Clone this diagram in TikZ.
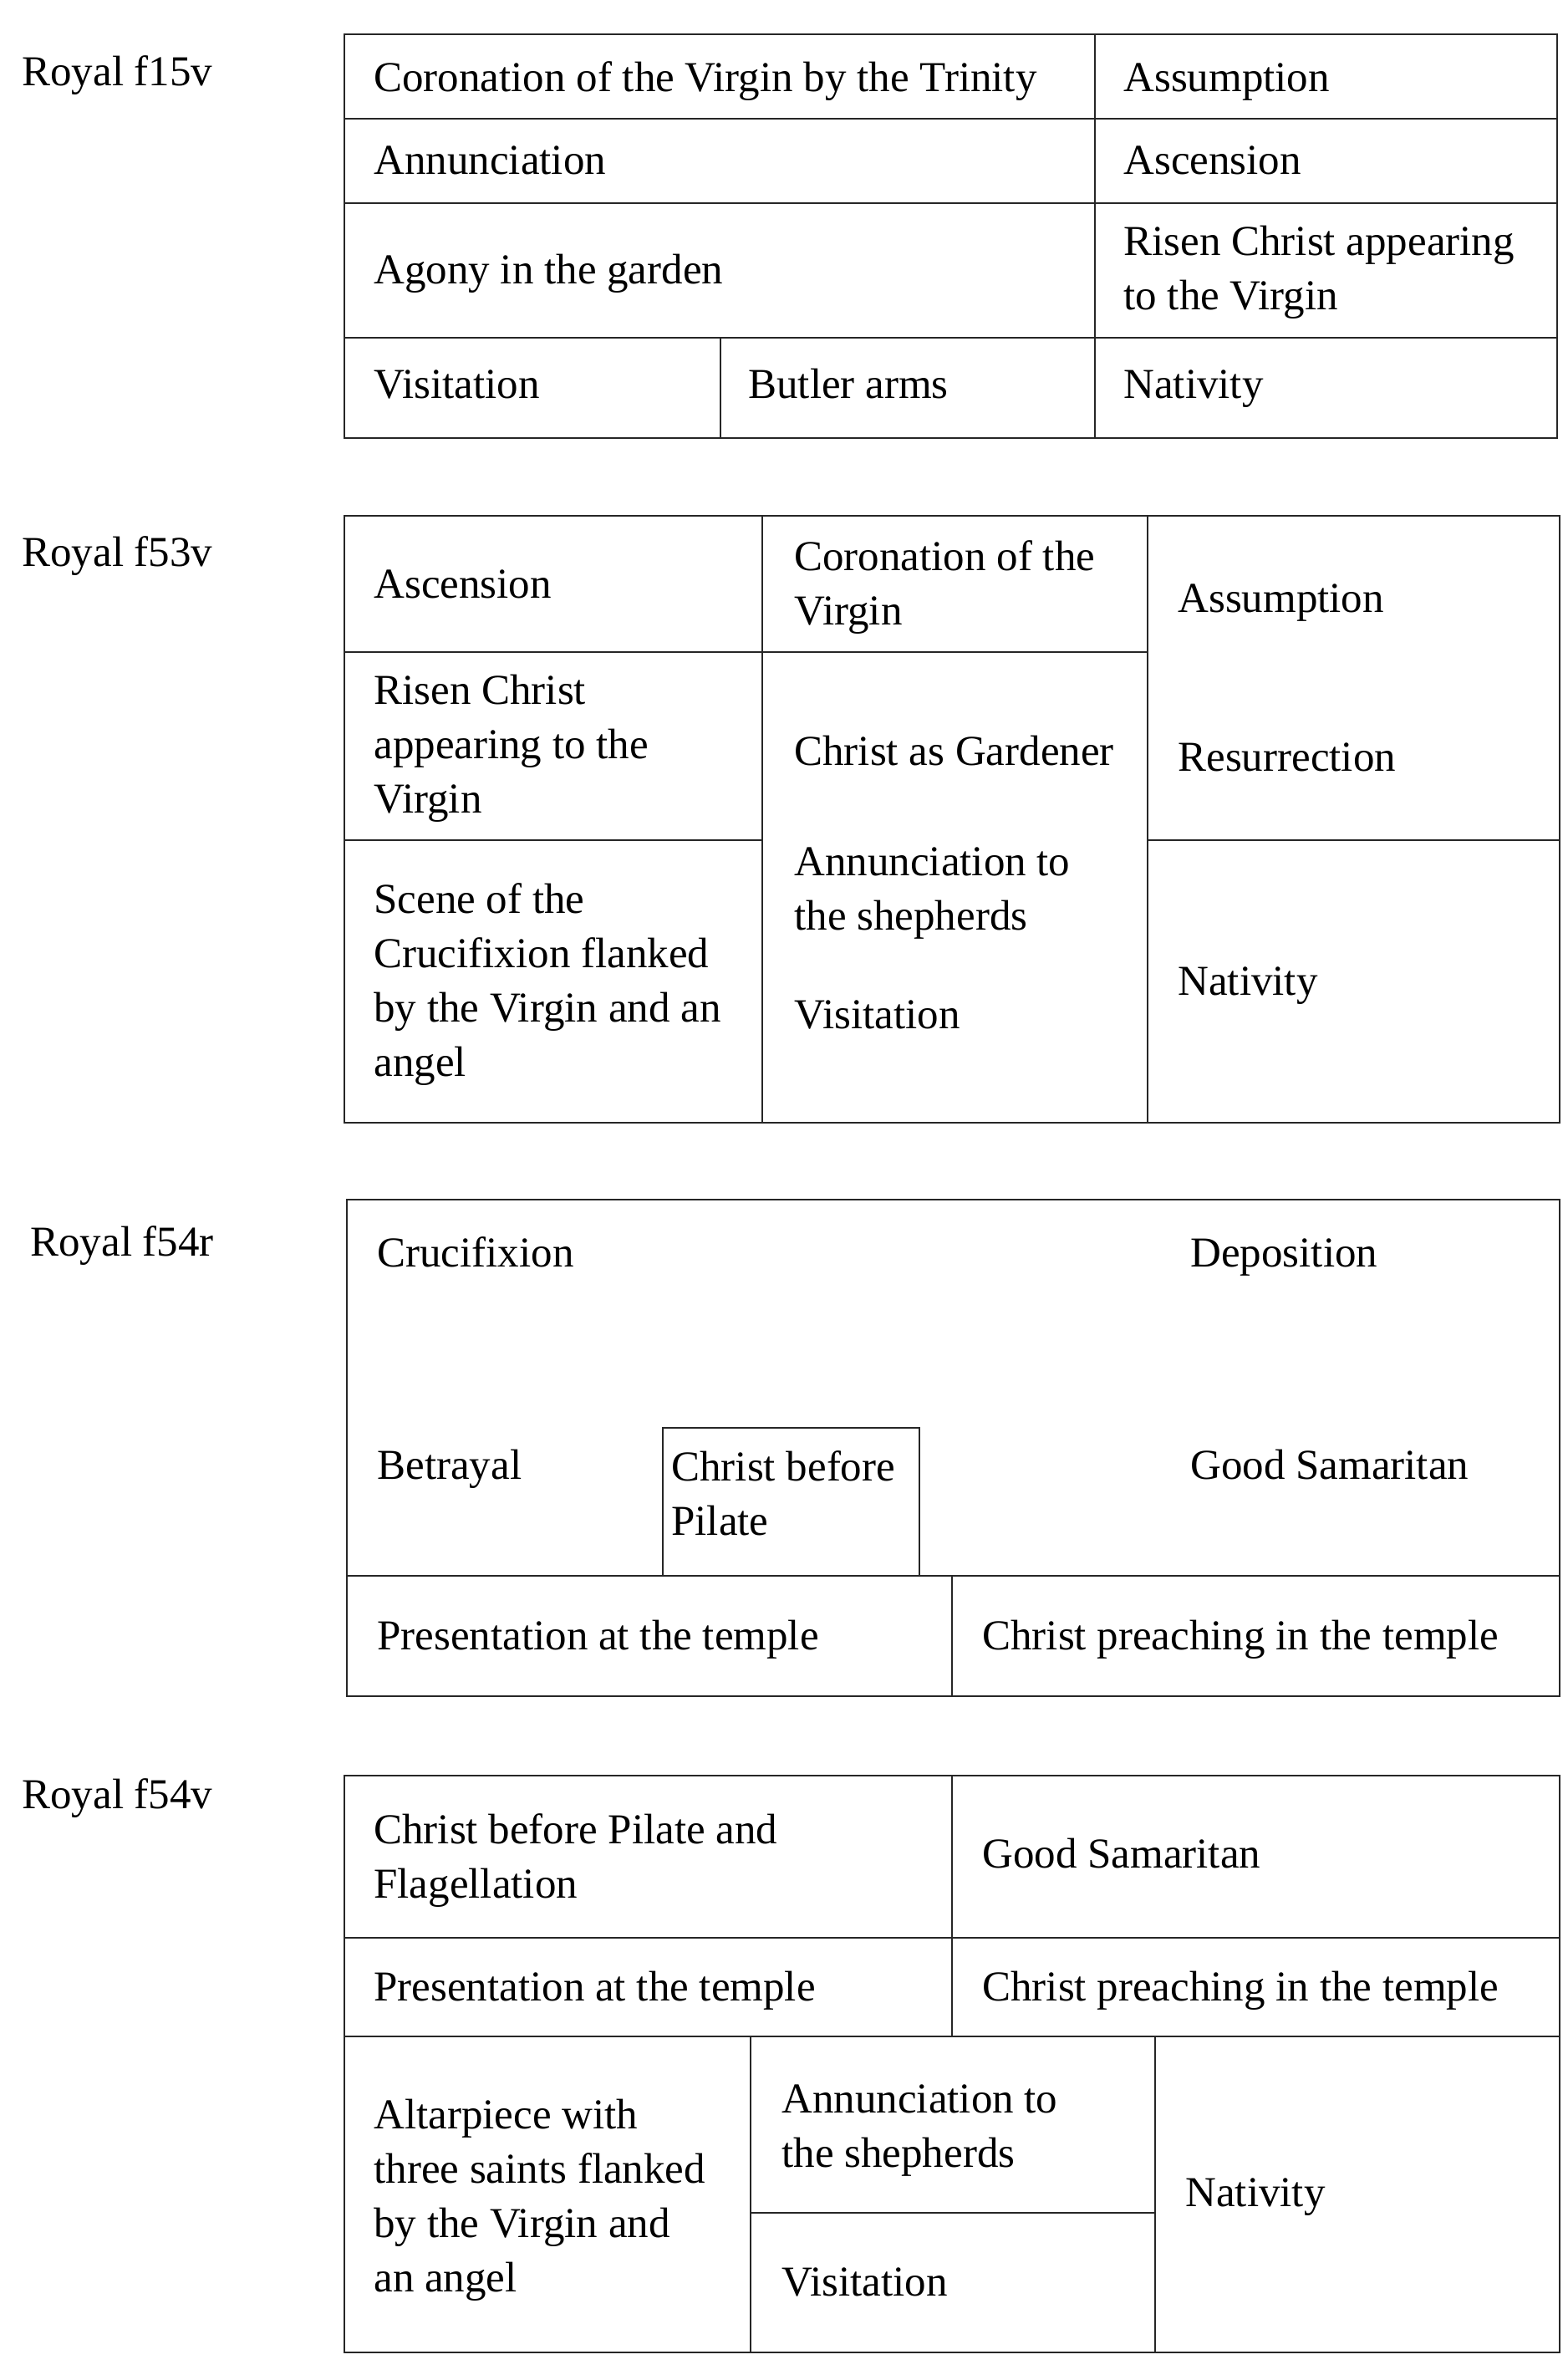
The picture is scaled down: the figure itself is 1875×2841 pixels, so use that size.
\documentclass[tikz,border=0pt]{standalone}
\usepackage{fontspec}
\setmainfont{Liberation Serif}
\usetikzlibrary{positioning}

\begin{document}
\begin{tikzpicture}[x=0.5pt, y=-0.5pt,
    rule/.style={line width=1.4pt, black!85},
    cell/.style={anchor=base west, inner sep=0pt, align=left,
      font=\fontsize{25.5}{32.5}\selectfont}]
  \useasboundingbox (0,0) rectangle (1875,2841);

  % Royal f15v
  \node[cell] (f15v) at (26,103) {Royal f15v};
  \draw[rule] (412,41) rectangle (1863,524);
  \draw[rule] (412,142) -- (1863,142);
  \draw[rule] (412,243) -- (1863,243);
  \draw[rule] (412,404) -- (1863,404);
  \draw[rule] (1310,41) -- (1310,524);
  \draw[rule] (862,404) -- (862,524);
  \node[cell] (coronationA) at (447,110) {Coronation of the Virgin by the Trinity};
  \node[cell] (assumptionA) at (1344,110) {Assumption};
  \node[cell] (annunciationA) at (447,209) {Annunciation};
  \node[cell] (ascensionA) at (1344,209) {Ascension};
  \node[cell] (agonyA) at (447,340) {Agony in the garden};
  \node[cell] (risenA) at (1344,371) {Risen Christ appearing\\to the Virgin};
  \node[cell] (visitationA) at (447,476) {Visitation};
  \node[cell] (butlerA) at (895,476) {Butler arms};
  \node[cell] (nativityA) at (1344,476) {Nativity};

  % Royal f53v
  \node[cell] (f53v) at (26,677) {Royal f53v};
  \draw[rule] (412,617) rectangle (1866,1343);
  \draw[rule] (912,617) -- (912,1343);
  \draw[rule] (1373,617) -- (1373,1343);
  \draw[rule] (412,780) -- (1373,780);
  \draw[rule] (412,1005) -- (912,1005);
  \draw[rule] (1373,1005) -- (1866,1005);
  \node[cell] (ascensionB) at (447,715) {Ascension};
  \node[cell] (coronationB) at (950,747) {Coronation of the\\Virgin};
  \node[cell] (assumptionB) at (1409,732) {Assumption};
  \node[cell] (risenB) at (447,972) {Risen Christ\\appearing to the\\Virgin};
  \node[cell] (gardenerB) at (950,915) {Christ as Gardener};
  \node[cell] (resurrectionB) at (1409,922) {Resurrection};
  \node[cell] (crucifixionB) at (447,1287) {Scene of the\\Crucifixion flanked\\by the Virgin and an\\angel};
  \node[cell] (shepherdsB) at (950,1112) {Annunciation to\\the shepherds};
  \node[cell] (visitationB) at (950,1230) {Visitation};
  \node[cell] (nativityB) at (1409,1190) {Nativity};

  % Royal f54r
  \node[cell] (f54r) at (36,1502) {Royal f54r};
  \draw[rule] (415,1435) rectangle (1866,2029);
  \draw[rule] (415,1885) -- (1866,1885);
  \draw[rule] (1139,1885) -- (1139,2029);
  \draw[rule] (793,1885) -- (793,1708) -- (1100,1708) -- (1100,1885);
  \node[cell] (crucifixionC) at (451,1515) {Crucifixion};
  \node[cell] (depositionC) at (1424,1515) {Deposition};
  \node[cell] (betrayalC) at (451,1769) {Betrayal};
  \node[cell] (pilateC) at (803,1836) {Christ before\\Pilate};
  \node[cell] (samaritanC) at (1424,1769) {Good Samaritan};
  \node[cell] (presentationC) at (451,1973) {Presentation at the temple};
  \node[cell] (preachingC) at (1175,1973) {Christ preaching in the temple};

  % Royal f54v
  \node[cell] (f54v) at (26,2163) {Royal f54v};
  \draw[rule] (412,2124) rectangle (1866,2814);
  \draw[rule] (412,2318) -- (1866,2318);
  \draw[rule] (412,2436) -- (1866,2436);
  \draw[rule] (1139,2124) -- (1139,2436);
  \draw[rule] (898,2436) -- (898,2814);
  \draw[rule] (1382,2436) -- (1382,2814);
  \draw[rule] (898,2647) -- (1382,2647);
  \node[cell] (pilateD) at (447,2270) {Christ before Pilate and\\Flagellation};
  \node[cell] (samaritanD) at (1175,2234) {Good Samaritan};
  \node[cell] (presentationD) at (447,2393) {Presentation at the temple};
  \node[cell] (preachingD) at (1175,2393) {Christ preaching in the temple};
  \node[cell] (altarpieceD) at (447,2741) {Altarpiece with\\three saints flanked\\by the Virgin and\\an angel};
  \node[cell] (shepherdsD) at (935,2592) {Annunciation to\\the shepherds};
  \node[cell] (visitationD) at (935,2746) {Visitation};
  \node[cell] (nativityD) at (1418,2639) {Nativity};
\end{tikzpicture}
\end{document}
